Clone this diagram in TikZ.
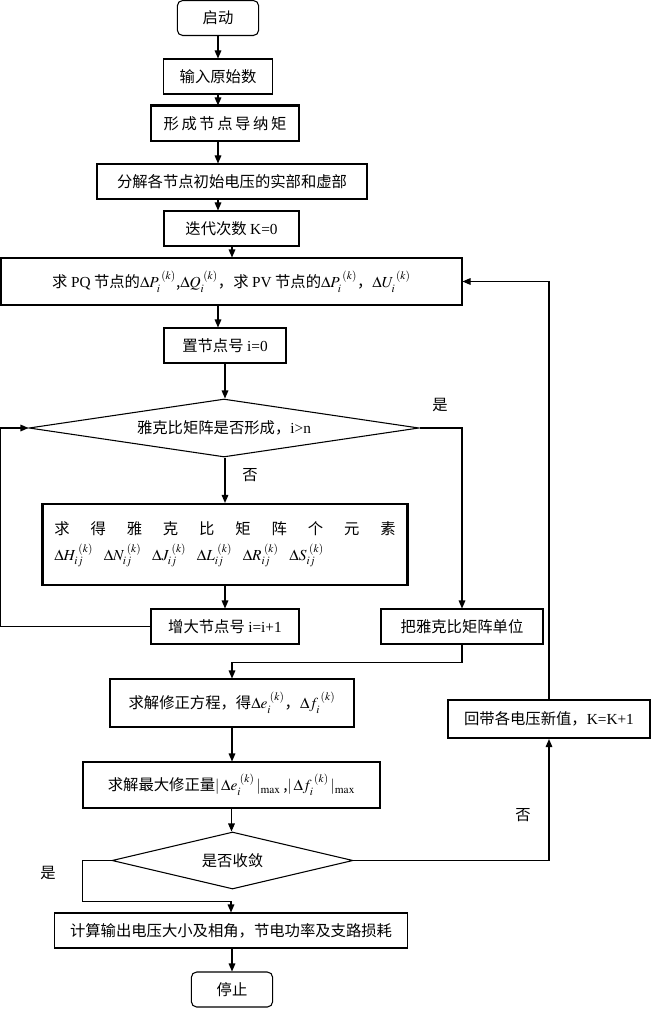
\documentclass[tikz,border=0pt]{standalone}
\usepackage{mathptmx}
\usepackage[no-math]{fontspec}
\setmainfont{Liberation Serif}
\newfontfamily\cjk{Noto Sans CJK SC}
\usetikzlibrary{shapes.geometric,arrows.meta,calc}

\newcommand{\boxfont}{\fontsize{11.5}{14}\selectfont}
\newcommand{\en}[1]{{\rmfamily #1}}

\tikzset{
  box/.style={draw, line width=0.8pt, minimum height=26.25pt, inner sep=2pt, font=\cjk\boxfont},
  termbox/.style={box, rounded corners=4pt},
  heavybox/.style={box, line width=1.6pt},
  decision/.style={draw, diamond, line width=0.8pt, inner sep=0pt, font=\cjk\boxfont},
  flow/.style={-{Triangle[length=6pt,width=5pt]}, line width=0.8pt},
  line/.style={line width=0.8pt},
  yesno/.style={font=\cjk\boxfont}
}

\begin{document}
\begin{tikzpicture}[x=0.75pt, y=-0.75pt]
    \useasboundingbox (0,0) rectangle (651,1009);

    % main column
    \node[termbox, minimum width=61pt] (start) at (218,18) {启动};
    \node[box, minimum width=81.4pt] (input) at (218,76.5) {输入原始数};
    \node[box, minimum width=111pt] (ybus) at (225,123.5) {形\,成\,节\,点\,导\,纳\,矩};
    \node[box, minimum width=202.5pt] (split) at (232,181.5) {分解各节点初始电压的实部和虚部};
    \node[box, minimum width=101.25pt] (kzero) at (231.5,228.5) {迭代次数 \en{K=0}};
    \node[box, minimum width=345.75pt, minimum height=35.25pt] (mismatch) at (231.5,281.5)
      {求 \en{PQ} 节点的$\Delta P_i^{\;(k)}$,$\Delta Q_i^{\;(k)}$，求 \en{PV} 节点的$\Delta P_i^{\;(k)}$，$\Delta U_i^{\;(k)}$};
    \node[box, minimum width=91.5pt] (izero) at (225,345.5) {置节点号 \en{i=0}};
    \node[decision, minimum width=292.5pt, minimum height=43.5pt, aspect=6.7] (jacdone) at (224,428)
      {雅克比矩阵是否形成，\en{i>n}};
    \node[heavybox, minimum width=273.75pt, minimum height=60.75pt, align=left] (jacelem) at (225,544.5)
      {\makebox[256pt]{求\hfill 得\hfill 雅\hfill 克\hfill 比\hfill 矩\hfill 阵\hfill 个\hfill 元\hfill 素}\\[5pt]
       $\Delta H_{ij}^{\;(k)}\hspace{8pt}\Delta N_{ij}^{\;(k)}\hspace{8pt}\Delta J_{ij}^{\;(k)}\hspace{8pt}\Delta L_{ij}^{\;(k)}\hspace{8pt}\Delta R_{ij}^{\;(k)}\hspace{8pt}\Delta S_{ij}^{\;(k)}$};
    \node[box, minimum width=111pt] (inext) at (225,626.5) {增大节点号 \en{i=i+1}};
    \node[box, minimum width=121.5pt] (jacunit) at (462,626.5) {把雅克比矩阵单位};
    \node[box, minimum width=183pt, minimum height=36pt] (solve) at (232,703)
      {求解修正方程，得$\Delta e_i^{\;(k)}$，$\Delta f_i^{\;(k)}$};
    \node[heavybox, minimum width=151.5pt, minimum height=28.5pt] (update) at (549,719)
      {回带各电压新值，\en{K=K+1}};
    \node[box, minimum width=222.75pt, minimum height=34.5pt] (maxcorr) at (231.5,785)
      {求解最大修正量$|\,\Delta e_i^{\;(k)}\,|_{\max}$\,,$|\,\Delta f_i^{\;(k)}\,|_{\max}$};
    \node[decision, minimum width=180.75pt, minimum height=42.75pt, aspect=4.2] (conv) at (232.5,860.5) {是否收敛};
    \node[box, minimum width=264.4pt] (output) at (231,930.5) {计算输出电压大小及相角，节电功率及支路损耗};
    \node[termbox, minimum width=61pt] (stop) at (232,989.5) {停止};

    % thick top edge of the admittance box
    \draw[line width=1.8pt] (ybus.north west) -- (ybus.north east);

    % yes / no labels
    \node[yesno] (yesjac) at (440,405) {是};
    \node[yesno] (nojac) at (250,475) {否};
    \node[yesno] (noconv) at (523,815) {否};
    \node[yesno] (yesconv) at (48,873) {是};

    % straight arrows
    \draw[flow] (start) -- (input);
    \draw[flow] (input.south) -- (input.south |- ybus.north);
    \draw[flow] (ybus.south -| input.south) -- (input.south |- split.north);
    \draw[flow] (split.south -| input.south) -- (input.south |- kzero.north);
    \draw[flow] (kzero.south -| split.south) -- (split.south |- mismatch.north);
    \draw[flow] (mismatch.south -| input.south) -- (input.south |- izero.north);
    \draw[flow] (izero.south) -- (izero.south |- jacdone.north);
    \draw[flow] (jacdone.south -| jacelem.north) -- (jacelem.north);
    \draw[flow] (jacelem.south) -- (jacelem.south |- inext.north);
    \draw[flow] (solve.south) -- (solve.south |- maxcorr.north);
    \draw[flow] (maxcorr.south) -- (maxcorr.south |- conv.north);
    \draw[flow] (output.south -| stop.north) -- (stop.north);

    % loops and branches
    \draw[flow] (jacdone.east) -| (jacunit.north);
    \draw[flow] (inext.west) -- (inext.west -| mismatch.west) |- (jacdone.west);
    \draw[flow] (jacunit.south) -- ++(0,18) -| (solve.north);
    \draw[flow] (conv.east) -| (update.south);
    \draw[flow] (update.north) |- (mismatch.east);
    \draw[flow] (conv.west) -- (conv.west -| maxcorr.west) -- ++(0,41) -| (output.north);
\end{tikzpicture}
\end{document}
